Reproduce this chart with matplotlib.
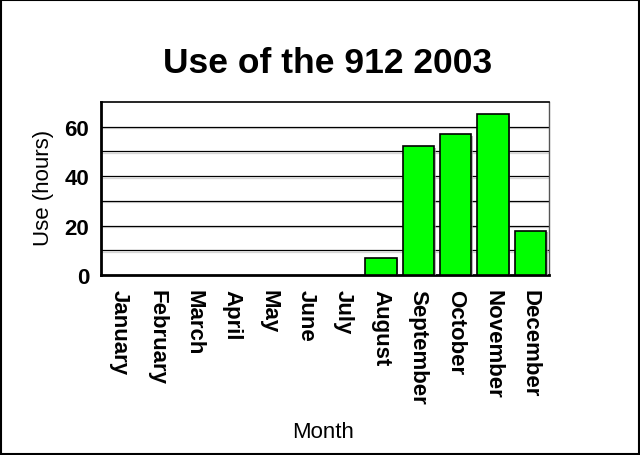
import matplotlib
matplotlib.use("Agg")
import matplotlib.pyplot as plt
from matplotlib.patches import Rectangle
import matplotlib.patheffects as pe
import matplotlib.transforms as mtransforms

months = ["January", "February", "March", "April", "May", "June", "July",
          "August", "September", "October", "November", "December"]
hours = [0, 0, 0, 0, 0, 0, 0, 7, 52, 57, 65, 18]
yticks = [0, 20, 40, 60]

plt.rcParams['font.family'] = ['Liberation Sans', 'DejaVu Sans']

W, H = 640, 456
fig = plt.figure(figsize=(6.4, 4.56), dpi=100)
fig.patches.append(Rectangle((0.002, 0.002), 0.996, 0.996, transform=fig.transFigure,
                             fill=False, edgecolor='black', linewidth=1.5))
ax = fig.add_axes([101/W, 1-276/H, (549-101)/W, (276-103)/H])

x = list(range(len(months)))
bars = ax.bar(x, hours, width=0.84, color='#00ff00', edgecolor='black',
              linewidth=1.2, zorder=3)
for b, h in zip(bars, hours):
    if h == 0:
        b.set_visible(False)
    else:
        b.set_path_effects([pe.SimplePatchShadow(offset=(1.2, -1.2), shadow_rgbFace='#999999', alpha=0.7),
                            pe.Normal()])
ax.set_xlim(-0.5, 11.5)
ax.set_ylim(0, 70)
for v in range(10, 70, 10):
    ax.axhline(v, color='black', linewidth=0.9, zorder=1,
               path_effects=[pe.SimpleLineShadow(offset=(0, -1.0), shadow_color='#bbbbbb', alpha=0.6),
                             pe.Normal()])
ax.set_yticks(yticks)
ax.set_yticklabels([str(t) for t in yticks], fontsize=16, fontweight='bold')
ax.set_xticks(x)
ax.set_xticklabels(months, rotation=270, fontsize=16, fontweight='bold', va='top', ha='center')
shift = mtransforms.ScaledTranslation(-3/100, 0, fig.dpi_scale_trans)
for lbl in ax.get_xticklabels():
    lbl.set_transform(lbl.get_transform() + shift)
ax.tick_params(axis='y', length=0, pad=8.5)
ax.tick_params(axis='x', length=0, pad=10)
for s in ['left', 'bottom']:
    ax.spines[s].set_linewidth(2)
ax.spines['top'].set_linewidth(1.2)
ax.spines['right'].set_linewidth(1.0)
ax.spines['right'].set_color('#555555')

fig.text(44/W, 1-188/H, "Use (hours)", rotation=90, ha='center', va='center', fontsize=16)
fig.text(0.5 * (101 + 549) / W - 2/W, 1-438/H, "Month", ha='center', va='baseline', fontsize=16)
fig.text(328/W, 1-73/H, "Use of the 912 2003", ha='center', va='baseline',
         fontsize=25.5, fontweight='bold')

fig.savefig("out.png", dpi=100)
